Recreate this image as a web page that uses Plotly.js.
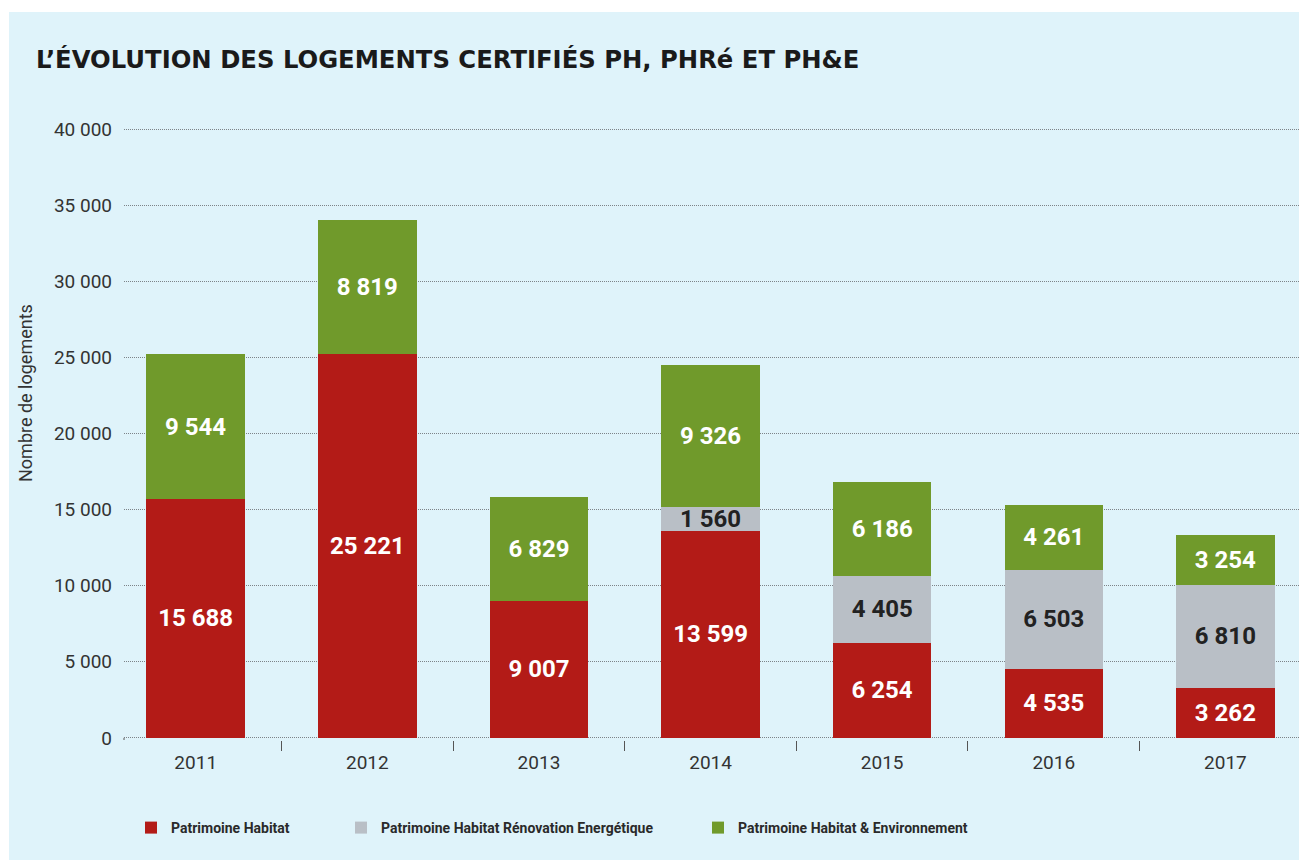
<!DOCTYPE html>
<html><head><meta charset="utf-8">
<script src="https://cdn.plot.ly/plotly-3.0.1.min.js"></script>
<style>
html,body{margin:0;padding:0;background:#ffffff;width:1299px;height:860px;overflow:hidden;}
#chart{position:absolute;left:9px;top:12px;width:1290px;height:848px;}
</style></head>
<body><div id="chart"></div>
<script>
const years = ["2011","2012","2013","2014","2015","2016","2017"];
const patrimoineHabitat = [15688, 25221, 9007, 13599, 6254, 4535, 3262];
const renovationEnergetique = [null, null, null, 1560, 4405, 6503, 6810];
const habitatEnvironnement = [9544, 8819, 6829, 9326, 6186, 4261, 3254];
const seriesNames = ["Patrimoine Habitat", "Patrimoine Habitat Rénovation Energétique", "Patrimoine Habitat & Environnement"];
const yTicks = [0, 5000, 10000, 15000, 20000, 25000, 30000, 35000, 40000];

const colors = ["#b31b17", "#b9bfc6", "#709a2b"];
const textColors = ["#ffffff", "#222222", "#ffffff"];
const valuesList = [patrimoineHabitat, renovationEnergetique, habitatEnvironnement];
const legendIds = ["legend", "legend2", "legend3"];

const traces = valuesList.map((vals, i) => ({
  type: "bar",
  name: seriesNames[i],
  x: years,
  y: vals,
  width: 0.574,
  marker: {color: colors[i], line: {width: 0}},
  texttemplate: "%{y:,d}",
  textposition: "inside",
  insidetextanchor: "middle",
  constraintext: "none",
  textangle: 0,
  insidetextfont: {family: "Roboto", size: 24, color: textColors[i], weight: 700},
  hoverinfo: "skip",
  legend: legendIds[i]
}));

const legendBase = {
  orientation: "h",
  yanchor: "middle",
  y: (728 - 816) / 613,
  xanchor: "left",
  bgcolor: "rgba(0,0,0,0)",
  font: {family: "Roboto", size: 14, color: "#2a2a2a", weight: 700},
  itemwidth: 30
};
function px2paperX(px){ return (px - 124) / 1175; }

const layout = {
  width: 1290,
  height: 848,
  paper_bgcolor: "#dff3fa",
  plot_bgcolor: "rgba(0,0,0,0)",
  margin: {l: 115, r: 0, t: 115, b: 120},
  separators: ", ",
  barmode: "stack",
  showlegend: true,
  title: {
    text: "L’ÉVOLUTION DES LOGEMENTS CERTIFIÉS PH, PHRé ET PH&E",
    x: 27/1290, xanchor: "left", xref: "container",
    y: 1 - 47/848, yanchor: "middle", yref: "container",
    font: {family: "DejaVu Sans", size: 24.3, color: "#1a1a1a", weight: 700}
  },
  xaxis: {
    type: "category",
    range: [-0.418, 6.429],
    tickson: "boundaries",
    ticks: "outside",
    ticklen: 10,
    tickwidth: 1,
    tickcolor: "#555555",
    ticklabelstandoff: 9,
    showgrid: false,
    showline: false,
    zeroline: false,
    tickfont: {family: "Roboto", size: 19, color: "#333333"},
    fixedrange: true
  },
  yaxis: {
    range: [-140, 40140],
    tickvals: yTicks,
    tickformat: ",d",
    showgrid: true,
    gridcolor: "#7d8388",
    griddash: "1px,1px",
    gridwidth: 1,
    zeroline: false,
    showline: false,
    ticks: "",
    ticklabelstandoff: 11,
    tickfont: {family: "Roboto", size: 19, color: "#333333"},
    fixedrange: true
  },
  legend: Object.assign({}, legendBase, {x: px2paperX(131)}),
  legend2: Object.assign({}, legendBase, {x: px2paperX(341)}),
  legend3: Object.assign({}, legendBase, {x: px2paperX(698)}),
  annotations: [{
    text: "Nombre de logements",
    xref: "paper", yref: "paper",
    x: (16 - 115)/1175, y: (728 - 381)/613,
    xanchor: "center", yanchor: "middle",
    textangle: -90, showarrow: false,
    font: {family: "Roboto", size: 18, color: "#333333", weight: 400}
  }],
  shapes: [{
    type: "line", xref: "paper", yref: "y",
    ysizemode: "pixel", yanchor: 0,
    x0: 0, x1: 0, y0: 0, y1: -10,
    line: {color: "#555555", width: 1}
  }]
};

Plotly.newPlot("chart", traces, layout, {displayModeBar: false, staticPlot: true});
</script></body></html>
